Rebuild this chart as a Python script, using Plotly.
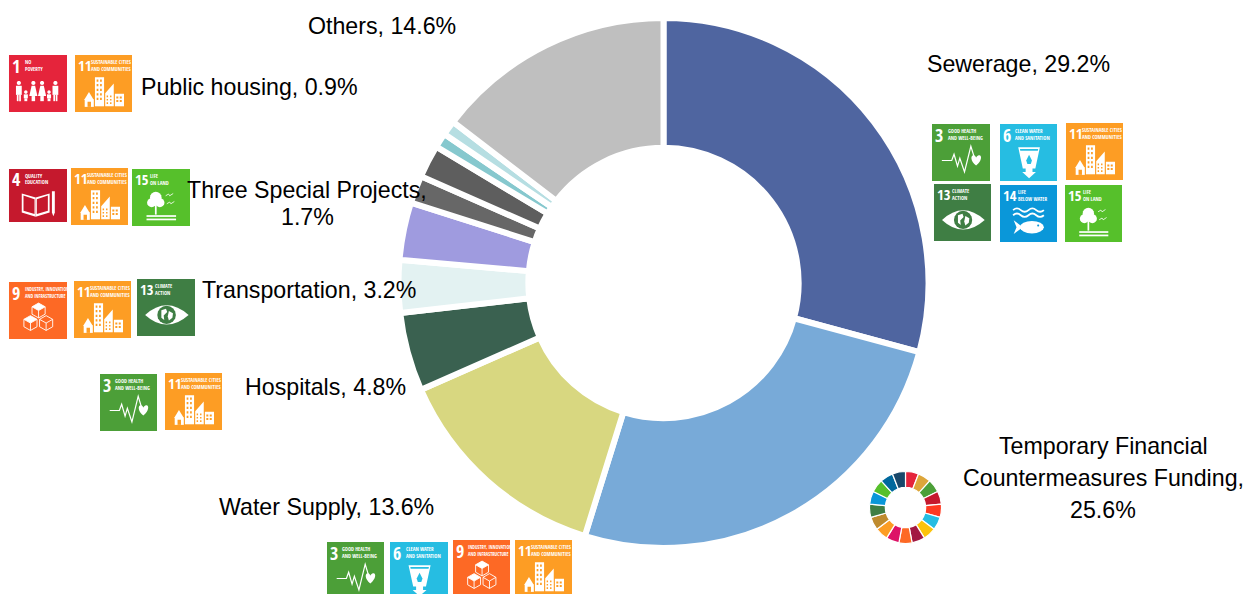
import math
import plotly.graph_objects as go

W, H = 1244, 594
FONT = "Liberation Sans, Arial, sans-serif"
NARROW = "Open Sans Condensed, Roboto Condensed, sans-serif"

# Share of funding by sector, clockwise from 12 o'clock
sectors = ["Sewerage", "Temporary Financial Countermeasures Funding", "Water Supply", "Hospitals",
           "Transportation", "Sector F", "Three Special Projects", "Sector H", "Sector I",
           "Public housing", "Others"]
shares = [29.2, 25.6, 13.6, 4.8, 3.2, 3.5, 1.7, 2.0, 0.9, 0.9, 14.6]
sector_colors = ["#4F65A0", "#78AAD8", "#D8D780", "#3A6150", "#E3F2F2", "#9F9BDF",
                 "#676767", "#5E5E5E", "#86C8CE", "#B6DEE2", "#BFBFBF"]

# Sustainable Development Goal metadata: number -> colour and caption lines
goal_colors = {1: "#E5243B", 2: "#DDA63A", 3: "#4C9F38", 4: "#C5192D", 5: "#FF3A21", 6: "#26BDE2",
               7: "#FCC30B", 8: "#A21942", 9: "#FD6925", 10: "#DD1367", 11: "#FD9D24", 12: "#BF8B2E",
               13: "#3F7E44", 14: "#0A97D9", 15: "#56C02B", 16: "#00689D", 17: "#19486A"}
goal_captions = {1: ("NO", "POVERTY"), 3: ("GOOD HEALTH", "AND WELL-BEING"), 4: ("QUALITY", "EDUCATION"),
                 6: ("CLEAN WATER", "AND SANITATION"), 9: ("INDUSTRY, INNOVATION", "AND INFRASTRUCTURE"),
                 11: ("SUSTAINABLE CITIES", "AND COMMUNITIES"), 13: ("CLIMATE", "ACTION"),
                 14: ("LIFE", "BELOW WATER"), 15: ("LIFE", "ON LAND")}

shapes, notes = [], []


def fx(x):
    return x / W


def fy(y):
    return 1 - y / H


class Icon:
    """A square goal tile; glyph coordinates run 0-100 across and down the tile."""

    def __init__(self, goal, x0, y0, x1, y1):
        self.goal, self.x0, self.y0, self.x1, self.y1 = goal, x0, y0, x1, y1
        self.bg = goal_colors[goal]

    def p(self, u, v):
        x = self.x0 + (self.x1 - self.x0) * u / 100
        y = self.y0 + (self.y1 - self.y0) * v / 100
        return f"{fx(x):.5f},{fy(y):.5f}"

    def poly(self, pts, close=True):
        s = "M" + " L".join(self.p(u, v) for u, v in pts)
        return s + (" Z" if close else "")

    def circle(self, cu, cv, r, rv=None):
        rv = r if rv is None else rv
        pts = [(cu + r * math.cos(i * math.pi / 8), cv + rv * math.sin(i * math.pi / 8)) for i in range(16)]
        return self.poly(pts)

    def rect(self, u0, v0, u1, v1):
        return self.poly([(u0, v0), (u1, v0), (u1, v1), (u0, v1)])

    def fill(self, path, color="white"):
        shapes.append(dict(type="path", xref="paper", yref="paper", path=path, fillcolor=color,
                           line=dict(width=0), layer="above"))

    def stroke(self, path, width=1.0, color="white"):
        shapes.append(dict(type="path", xref="paper", yref="paper", path=path, fillcolor="rgba(0,0,0,0)",
                           line=dict(width=width, color=color), layer="above"))

    def text(self, u, v, s, size):
        x = self.x0 + (self.x1 - self.x0) * u / 100
        y = self.y0 + (self.y1 - self.y0) * v / 100
        notes.append(dict(x=fx(x), y=fy(y), xref="paper", yref="paper", xanchor="left", yanchor="middle",
                          text=s, showarrow=False, borderpad=0, borderwidth=0,
                          font=dict(family=NARROW, size=size, color="white")))

    def draw(self):
        self.fill(self.rect(0, 0, 100, 100), self.bg)
        two_digit = self.goal >= 10
        cap_u = 31 if self.goal >= 13 else (28 if two_digit else 27)
        self.text(5, 19, str(self.goal), 14.5 if two_digit else 18)
        a, b = goal_captions[self.goal]
        size = 4.7 if self.goal == 9 else 5.2
        self.text(cap_u, 13, a, size)
        self.text(cap_u, 25, b, size)
        getattr(self, f"glyph{self.goal}")()

    def glyph1(self):
        for cu in (17, 42, 57, 80):
            self.fill(self.circle(cu, 49, 3.6))
        for cu in (17, 80):
            self.fill(self.rect(cu - 5, 54, cu + 5, 70))
            self.fill(self.rect(cu - 3.5, 70, cu - 0.6, 81))
            self.fill(self.rect(cu + 0.6, 70, cu + 3.5, 81))
        for cu in (42, 57):
            self.fill(self.poly([(cu - 3, 54), (cu + 3, 54), (cu + 7, 72), (cu - 7, 72)]))
            self.fill(self.rect(cu - 3, 72, cu + 3, 81))
        for cu in (29, 69):
            self.fill(self.circle(cu, 65, 3))
            self.fill(self.rect(cu - 3.5, 69, cu + 3.5, 76))
            self.fill(self.rect(cu - 2.5, 76, cu + 2.5, 81))

    def glyph3(self):
        self.stroke(self.poly([(17, 64), (34, 64), (38, 53), (44, 74), (48, 60), (56, 84), (67, 39), (74, 62)],
                              close=False), 1.2)
        self.fill("M" + self.p(76, 73) + " C" + self.p(65, 64) + " " + self.p(67, 54) + " " + self.p(72, 55)
                  + " C" + self.p(74, 55) + " " + self.p(76, 58) + " " + self.p(76, 59)
                  + " C" + self.p(76, 58) + " " + self.p(79, 55) + " " + self.p(81, 55)
                  + " C" + self.p(86, 54) + " " + self.p(87, 64) + " " + self.p(76, 73) + " Z")

    def glyph4(self):
        self.fill(self.poly([(22, 46), (46, 54), (46, 90), (22, 82)]))
        self.fill(self.poly([(70, 46), (46, 54), (46, 90), (70, 82)]))
        self.fill(self.poly([(25, 50), (44, 57), (44, 85), (25, 79)]), self.bg)
        self.fill(self.poly([(67, 50), (48, 57), (48, 85), (67, 79)]), self.bg)
        self.fill(self.poly([(74, 42), (79, 42), (79, 82), (76.5, 89), (74, 82)]))

    def glyph6(self):
        self.fill(self.poly([(32, 41), (70, 41), (62, 78), (57, 78), (57, 84), (63, 84), (51, 95),
                             (39, 84), (45, 84), (45, 78), (40, 78)]))
        self.fill(self.poly([(35, 44), (67, 44), (66.5, 47), (35.6, 47)]), self.bg)
        self.fill(self.poly([(51, 54), (56, 64), (54, 70), (48, 70), (46, 64)]), self.bg)

    def glyph9(self):
        for cu, cv, solid in ((51, 50, True), (37, 72, True), (64, 72, False)):
            r = 13
            h = r * 0.87
            top = [(cu, cv - r), (cu + h, cv - r / 2), (cu, cv), (cu - h, cv - r / 2)]
            if solid:
                self.fill(self.poly(top))
            self.stroke(self.poly([(cu, cv - r), (cu + h, cv - r / 2), (cu + h, cv + r / 2), (cu, cv + r),
                                   (cu - h, cv + r / 2), (cu - h, cv - r / 2)]), 0.9)
            self.stroke(self.poly([(cu - h, cv - r / 2), (cu, cv), (cu + h, cv - r / 2)], close=False), 0.9)
            self.stroke(self.poly([(cu, cv), (cu, cv + r)], close=False), 0.9)

    def glyph11(self):
        self.fill(self.poly([(16, 79), (24.5, 65), (33, 79)]))
        self.fill(self.rect(17, 78, 33, 91))
        self.fill(self.rect(22, 82, 28, 91), self.bg)
        self.fill(self.rect(35, 39, 51, 90))
        self.fill(self.poly([(53, 90), (53, 67), (68, 50), (68, 90)]))
        self.fill(self.rect(70, 68, 86, 90))
        windows = " ".join(self.rect(38 + 6 * c, 43 + 8 * r, 41 + 6 * c, 47 + 8 * r)
                           for c in range(2) for r in range(5))
        windows += " " + " ".join(self.rect(72.5 + 6 * c, 73 + 6 * r, 76 + 6 * c, 76.5 + 6 * r)
                                  for c in range(2) for r in range(2))
        windows += " " + " ".join(self.rect(55.5 + 6 * c, 71 + 6 * r, 58 + 6 * c, 74 + 6 * r)
                                  for c in range(2) for r in range(3))
        self.fill(windows, self.bg)

    def glyph13(self):
        self.fill("M" + self.p(14, 63) + " Q" + self.p(51, 29) + " " + self.p(89, 63)
                  + " Q" + self.p(51, 97) + " " + self.p(14, 63) + " Z")
        self.fill(self.circle(51, 63, 16), self.bg)
        self.fill(self.poly([(42, 55), (50, 52), (52, 58), (46, 64), (47, 72), (42, 68)]))
        self.fill(self.poly([(55, 56), (62, 60), (61, 68), (55, 73), (53, 66)]))

    def glyph14(self):
        for v in (44, 53):
            path = "M" + self.p(23, v)
            for i in range(4):
                u = 23 + 13.5 * i
                path += " Q" + self.p(u + 6.75, v - 6 if i % 2 == 0 else v + 6) + " " + self.p(u + 13.5, v)
            self.stroke(path, 1.8)
        self.fill(self.circle(56, 74, 21, 11))
        self.fill(self.poly([(24, 62), (40, 74), (24, 86), (29, 74)]))
        self.fill(self.circle(67, 71, 1.8), self.bg)

    def glyph15(self):
        self.fill(self.circle(41, 50, 10))
        self.fill(self.circle(34, 59, 8))
        self.fill(self.circle(48, 59, 8))
        self.fill(self.rect(39.5, 62, 42.5, 80))
        self.fill(self.rect(25, 81, 76, 84))
        self.fill(self.rect(25, 87, 76, 90))
        self.stroke(self.poly([(58, 47), (63, 44), (65, 47), (71, 43)], close=False), 0.8)
        self.stroke(self.poly([(60, 61), (65, 58), (67, 61), (73, 57)], close=False), 0.8)


# Tile groups placed beside the labels they belong to: goal, left, top, right, bottom
tile_layout = [
    (1, 9, 55, 67, 112), (11, 75, 55, 132, 112),
    (4, 9, 169, 67, 222), (11, 71, 168, 128, 225), (15, 132, 169, 190, 226),
    (9, 9, 282, 67, 339), (11, 74, 281, 131, 338), (13, 137, 279, 195, 336),
    (3, 100, 374, 157, 431), (11, 165, 373, 222, 430),
    (3, 932, 124, 990, 181), (6, 1000, 124, 1057, 181), (11, 1066, 123, 1123, 180),
    (13, 934, 184, 991, 241), (14, 1000, 185, 1057, 242), (15, 1065, 185, 1122, 242),
    (3, 327, 542, 384, 599), (6, 390, 542, 448, 599), (9, 453, 540, 510, 597), (11, 515, 540, 572, 597),
]
for tile in tile_layout:
    Icon(*tile).draw()


def share_of(name):
    return f"{name}, {shares[sectors.index(name)]}%"


# Sector labels, one entry per line: text, centre x, centre y
label_lines = [
    (share_of("Others"), 382, 26),
    (share_of("Sewerage"), 1018, 64),
    (share_of("Public housing"), 249, 87),
    ("Three Special Projects,", 307, 190),
    (f"{shares[6]}%", 307, 217),
    (share_of("Transportation"), 309, 290),
    (share_of("Hospitals"), 325.5, 387),
    (share_of("Water Supply"), 326, 507),
    ("Temporary Financial", 1103, 446),
    ("Countermeasures Funding,", 1103, 478),
    (f"{shares[1]}%", 1103, 510),
]
for text, x, y in label_lines:
    notes.append(dict(x=fx(x), y=fy(y), xref="paper", yref="paper", xanchor="center", yanchor="middle",
                      text=text, showarrow=False, font=dict(family=FONT, size=23.2, color="black")))

fig = go.Figure()
cx, cy, r = 663.5, 283, 265
fig.add_trace(go.Pie(
    labels=sectors, values=shares, sort=False, direction="clockwise", rotation=0, hole=0.51,
    marker=dict(colors=sector_colors, line=dict(color="white", width=6)),
    textinfo="none", hoverinfo="skip", showlegend=False,
    domain=dict(x=[fx(cx - r), fx(cx + r)], y=[fy(cy + r), fy(cy - r)]),
))

# Small 17-goal wheel beside the funding label
goal_numbers = list(range(1, 18))
wcx, wcy, wr = 905.5, 507.5, 36
fig.add_trace(go.Pie(
    labels=[f"Goal {g}" for g in goal_numbers], values=[1] * 17, sort=False, direction="clockwise",
    rotation=0, hole=0.56,
    marker=dict(colors=[goal_colors[g] for g in goal_numbers], line=dict(color="white", width=1.2)),
    textinfo="none", hoverinfo="skip", showlegend=False,
    domain=dict(x=[fx(wcx - wr), fx(wcx + wr)], y=[fy(wcy + wr), fy(wcy - wr)]),
))

fig.update_layout(width=W, height=H, autosize=False, margin=dict(l=0, r=0, t=0, b=0),
                  paper_bgcolor="white", plot_bgcolor="white", shapes=shapes, annotations=notes)
fig.write_html("out.html", config=dict(displayModeBar=False))
